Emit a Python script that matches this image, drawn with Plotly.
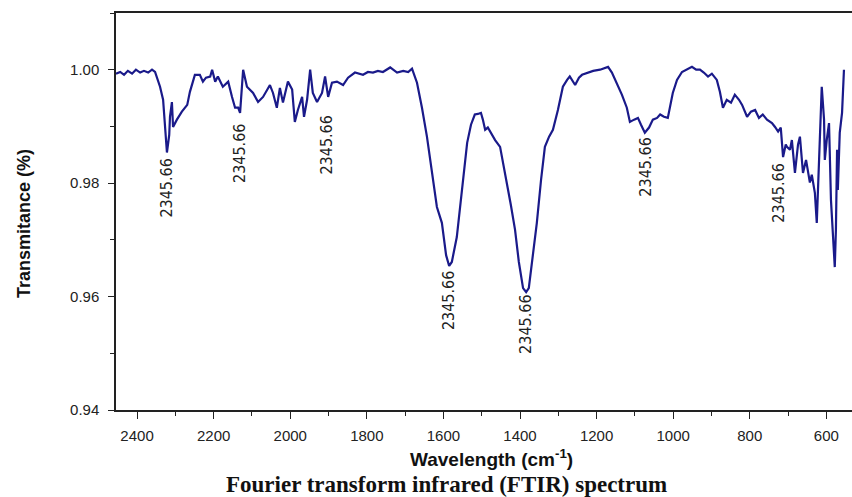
import plotly.graph_objects as go

wavenumber = [2455, 2444, 2434, 2424, 2413, 2403, 2392, 2382, 2371, 2361, 2353, 2345, 2340, 2332, 2327,
              2322, 2316, 2314, 2309, 2306, 2296, 2283, 2269, 2262, 2249, 2236, 2228, 2220, 2209, 2204,
              2196, 2189, 2176, 2162, 2152, 2144, 2136, 2131, 2123, 2113, 2097, 2084, 2071, 2053, 2045,
              2035, 2027, 2019, 2006, 1995, 1988, 1980, 1969, 1964, 1956, 1948, 1941, 1930, 1917, 1909,
              1901, 1891, 1878, 1862, 1849, 1831, 1810, 1797, 1784, 1771, 1758, 1739, 1721, 1705, 1692,
              1682, 1669, 1656, 1643, 1627, 1617, 1604, 1593, 1585, 1578, 1565, 1551, 1538, 1528, 1518,
              1510, 1502, 1497, 1491, 1484, 1478, 1471, 1465, 1452, 1434, 1424, 1413, 1403, 1392, 1384,
              1377, 1369, 1356, 1345, 1335, 1324, 1314, 1301, 1288, 1277, 1270, 1256, 1246, 1238, 1222,
              1209, 1191, 1170, 1160, 1147, 1134, 1121, 1113, 1102, 1092, 1084, 1074, 1063, 1053, 1042,
              1034, 1024, 1014, 1001, 990, 977, 964, 951, 940, 930, 920, 909, 899, 886, 878,
              870, 860, 849, 839, 828, 820, 813, 807, 797, 786, 776, 766, 755, 742, 734,
              726, 719, 713, 706, 703, 695, 690, 682, 674, 669, 661, 653, 643, 638, 630,
              625, 619, 617, 612, 606, 604, 599, 593, 588, 585, 580, 578, 575, 572, 570,
              565, 559, 554]

transmittance = [0.9993, 0.9996, 0.9991, 0.9998, 0.9993, 1.0000, 0.9995, 0.9998, 0.9995, 1.0000, 0.9996, 0.9982, 0.9970, 0.9947, 0.9894,
                 0.9854, 0.9885, 0.9917, 0.9943, 0.9899, 0.9912, 0.9926, 0.9938, 0.9961, 0.9991, 0.9991, 0.9979, 0.9986, 0.9988, 1.0000,
                 0.9979, 0.9988, 0.9970, 0.9979, 0.9952, 0.9933, 0.9933, 0.9924, 1.0000, 0.9970, 0.9959, 0.9943, 0.9952, 0.9973, 0.9959,
                 0.9933, 0.9968, 0.9942, 0.9979, 0.9965, 0.9908, 0.9929, 0.9952, 0.9917, 0.9947, 1.0000, 0.9959, 0.9943, 0.9959, 0.9988,
                 0.9952, 0.9977, 0.9979, 0.9973, 0.9986, 0.9995, 0.9991, 0.9996, 0.9995, 0.9998, 0.9996, 1.0004, 0.9995, 0.9998, 0.9996,
                 1.0002, 0.9977, 0.9933, 0.9882, 0.9811, 0.9758, 0.9730, 0.9673, 0.9654, 0.9661, 0.9705, 0.9788, 0.9871, 0.9903, 0.9921,
                 0.9922, 0.9924, 0.9912, 0.9894, 0.9898, 0.9891, 0.9884, 0.9876, 0.9864, 0.9801, 0.9762, 0.9718, 0.9661, 0.9615, 0.9608,
                 0.9615, 0.9661, 0.9730, 0.9806, 0.9864, 0.9882, 0.9894, 0.9929, 0.9970, 0.9982, 0.9988, 0.9973, 0.9986, 0.9991, 0.9995,
                 0.9998, 1.0000, 1.0005, 0.9995, 0.9977, 0.9956, 0.9933, 0.9908, 0.9912, 0.9915, 0.9903, 0.9889, 0.9898, 0.9912, 0.9915,
                 0.9921, 0.9917, 0.9915, 0.9959, 0.9982, 0.9996, 1.0000, 1.0005, 1.0000, 1.0000, 0.9995, 0.9988, 0.9993, 0.9982, 0.9961,
                 0.9933, 0.9947, 0.9942, 0.9956, 0.9947, 0.9938, 0.9926, 0.9917, 0.9926, 0.9929, 0.9915, 0.9921, 0.9912, 0.9906, 0.9899,
                 0.9891, 0.9898, 0.9846, 0.9868, 0.9864, 0.9859, 0.9876, 0.9818, 0.9868, 0.9882, 0.9818, 0.9841, 0.9801, 0.9815, 0.9783,
                 0.9730, 0.9841, 0.9876, 0.9970, 0.9912, 0.9841, 0.9876, 0.9906, 0.9771, 0.9730, 0.9673, 0.9652, 0.9718, 0.9859, 0.9788,
                 0.9889, 0.9924, 1.0000]

peak_label_x = [2322, 2134, 1904, 1585, 1384, 1071, 724]
peak_label_y = [0.9792, 0.9853, 0.9868, 0.9594, 0.9552, 0.9829, 0.9783]
peak_label_text = ["2345.66"] * 7

x_ticks = [2400, 2200, 2000, 1800, 1600, 1400, 1200, 1000, 800, 600]
y_ticks = [0.94, 0.96, 0.98, 1.00]

fig = go.Figure()
fig.add_trace(go.Scatter(x=wavenumber, y=transmittance, mode="lines",
                         line=dict(color="#1a1a8a", width=2.2), showlegend=False,
                         hoverinfo="skip"))

for xv, yv, t in zip(peak_label_x, peak_label_y, peak_label_text):
    fig.add_annotation(x=xv, y=yv, text=t, textangle=-90, showarrow=False,
                       font=dict(family="DejaVu Sans Condensed, Liberation Sans", size=16, color="#222222"))

fig.update_layout(
    width=852, height=497,
    margin=dict(l=116, r=0, t=13, b=87),
    paper_bgcolor="white", plot_bgcolor="white",
    font=dict(family="Liberation Sans, Arial", color="#222222"),
)

fig.update_xaxes(range=[2455, 533], tickvals=x_ticks, ticktext=[str(v) for v in x_ticks],
                 showgrid=False, zeroline=False, showline=True, linecolor="#222222", linewidth=1.5,
                 mirror=True, ticks="outside", ticklen=7, tickwidth=1.3, tickcolor="#222222",
                 ticklabelstandoff=4,
                 tickfont=dict(size=15, family="Liberation Sans, Arial", color="#222222"),
                 minor=dict(ticks="outside", ticklen=4, tickwidth=1.2, tickcolor="#222222", dtick=100, tick0=0, showgrid=False))
fig.update_yaxes(range=[0.94, 1.01], tickvals=y_ticks, ticktext=["0.94", "0.96", "0.98", "1.00"],
                 showgrid=False, zeroline=False, showline=True, linecolor="#222222", linewidth=1.5,
                 mirror=False, ticks="outside", ticklen=6, tickwidth=1.3, tickcolor="#222222",
                 ticklabelstandoff=6,
                 tickfont=dict(size=15, family="Liberation Sans, Arial", color="#222222"),
                 minor=dict(ticks="outside", ticklen=4, tickwidth=1.2, tickcolor="#222222", dtick=0.01, tick0=0, showgrid=False))

fig.add_annotation(x=(491 - 116) / 736, y=-(458 - 410) / 397, xref="paper", yref="paper",
                   text="<b>Wavelength (cm<sup>-1</sup>)</b>", showarrow=False,
                   font=dict(family="Liberation Sans, Arial", size=19, color="#111111"),
                   xanchor="center", yanchor="middle")
fig.add_annotation(x=(446 - 116) / 736, y=-(484 - 410) / 397, xref="paper", yref="paper",
                   text="<b>Fourier transform infrared (FTIR) spectrum</b>", showarrow=False,
                   font=dict(family="Liberation Serif, Times New Roman", size=23, color="#111111"),
                   xanchor="center", yanchor="middle")
fig.add_annotation(x=-(116 - 24) / 736, y=(410 - 224) / 397, xref="paper", yref="paper",
                   text="<b>Transmitance (%)</b>", textangle=-90, showarrow=False,
                   font=dict(family="Liberation Sans, Arial", size=18, color="#111111"),
                   xanchor="center", yanchor="middle")

fig.write_html("out.html")
